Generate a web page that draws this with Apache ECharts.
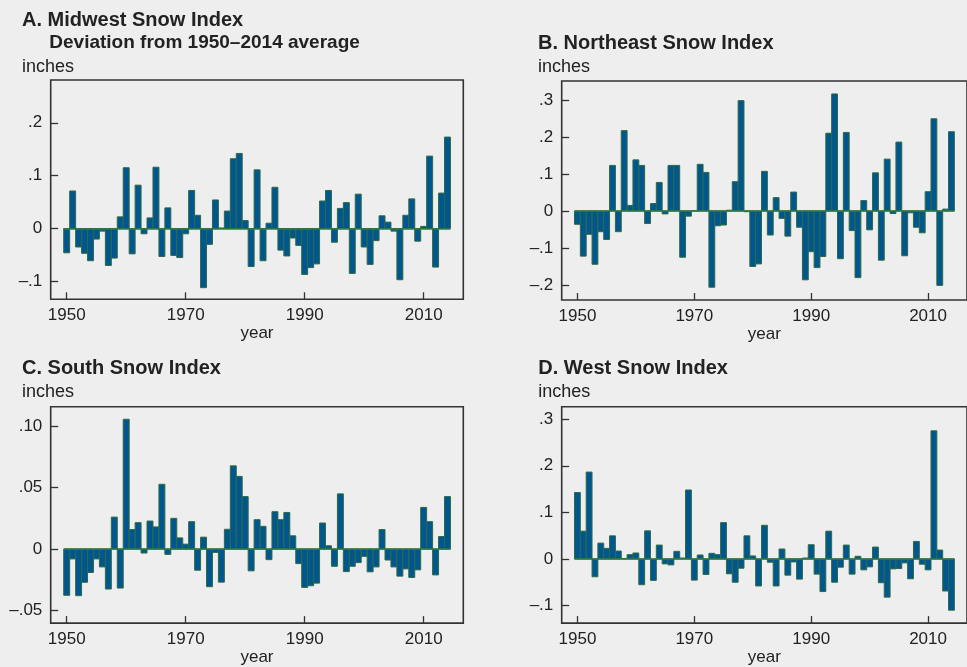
<!DOCTYPE html>
<html>
<head>
<meta charset="utf-8">
<script src="https://cdn.jsdelivr.net/npm/echarts@6/dist/echarts.min.js"></script>
<style>
html,body{margin:0;padding:0;background:#eeeeee;}
#chart{width:967px;height:667px;}
</style>
</head>
<body>
<div id="chart"></div>
<script>
const years = [1950,1951,1952,1953,1954,1955,1956,1957,1958,1959,
  1960,1961,1962,1963,1964,1965,1966,1967,1968,1969,
  1970,1971,1972,1973,1974,1975,1976,1977,1978,1979,
  1980,1981,1982,1983,1984,1985,1986,1987,1988,1989,
  1990,1991,1992,1993,1994,1995,1996,1997,1998,1999,
  2000,2001,2002,2003,2004,2005,2006,2007,2008,2009,
  2010,2011,2012,2013,2014];

const midwest = [-0.046,0.071,-0.035,-0.047,-0.061,-0.020,-0.005,-0.070,-0.056,0.022,
  0.115,-0.048,0.082,-0.010,0.020,0.116,-0.053,0.039,-0.051,-0.055,
  -0.010,0.072,0.025,-0.112,-0.030,0.054,0.001,0.033,0.132,0.142,
  0.015,-0.072,0.111,-0.061,0.010,0.078,-0.041,-0.052,-0.018,-0.032,
  -0.087,-0.074,-0.067,0.052,0.072,-0.026,0.038,0.049,-0.085,0.065,
  -0.035,-0.068,-0.023,0.024,0.012,-0.005,-0.097,0.025,0.056,-0.024,
  0.004,0.137,-0.073,0.067,0.173];

const northeast = [-0.036,-0.122,-0.063,-0.144,-0.056,-0.077,0.123,-0.056,0.217,0.015,
  0.138,0.123,-0.034,0.020,0.077,-0.008,0.123,0.123,-0.125,-0.014,
  0.001,0.126,0.104,-0.206,-0.040,-0.038,0.002,0.079,0.298,-0.002,
  -0.150,-0.143,0.107,-0.065,0.036,-0.020,-0.068,0.051,-0.044,-0.186,
  -0.110,-0.153,-0.123,0.210,0.316,-0.129,0.212,-0.053,-0.180,0.028,
  -0.051,0.103,-0.133,0.140,-0.007,0.186,-0.121,-0.005,-0.044,-0.059,
  0.052,0.249,-0.201,0.005,0.214];

const south = [-0.0376,-0.008,-0.0379,-0.027,-0.019,-0.008,-0.0145,-0.0325,0.026,-0.0317,
  0.1056,0.0159,0.0215,-0.0032,0.0228,0.018,0.0527,-0.0043,0.025,0.0091,
  0.004,0.0223,-0.0172,0.0097,-0.0306,-0.0027,-0.0269,0.0161,0.0677,0.0591,
  0.0427,-0.0177,0.0239,0.0185,-0.0086,0.0304,0.0239,0.0298,0.0108,-0.0118,
  -0.0312,-0.0298,-0.0277,0.0212,0.0027,-0.014,0.0449,-0.0183,-0.014,-0.011,
  -0.0059,-0.0185,-0.0145,0.0159,-0.0089,-0.0145,-0.022,-0.0161,-0.0231,-0.0169,
  0.0339,0.0223,-0.021,0.0102,0.0427];

const west = [0.1426,0.0596,0.1865,-0.0383,0.034,0.0227,0.0496,0.017,0.001,0.0092,
  0.0128,-0.0553,0.0603,-0.046,0.0298,-0.0106,-0.0128,0.0163,0.002,0.148,
  -0.0454,0.0085,-0.0333,0.012,0.0092,0.078,-0.0319,-0.050,-0.0199,0.0496,
  0.0064,-0.058,0.0723,-0.007,-0.058,0.0213,-0.0348,-0.0064,-0.0433,0.002,
  0.0305,-0.0326,-0.070,0.0596,-0.050,-0.0177,0.0298,-0.0326,0.0057,-0.0234,
  -0.017,0.0255,-0.051,-0.082,-0.0213,-0.0206,-0.0085,-0.0426,0.0376,-0.0113,
  -0.0234,0.275,0.0191,-0.0688,-0.110];

const xTicks = [1950,1970,1990,2010];
const yTicksA = [-0.1,0,0.1,0.2];
const yLabelsA = ['\u2013.1','0','.1','.2'];
const yTicksB = [-0.2,-0.1,0,0.1,0.2,0.3];
const yLabelsB = ['\u2013.2','\u2013.1','0','.1','.2','.3'];
const yTicksC = [-0.05,0,0.05,0.10];
const yLabelsC = ['\u2013.05','0','.05','.10'];
const yTicksD = [-0.1,0,0.1,0.2,0.3];
const yLabelsD = ['\u2013.1','0','.1','.2','.3'];

const FONT = '"Liberation Sans", Arial, Helvetica, sans-serif';
const TXT = '#222';
const FRAME = '#333';
const BAR = '#00578f';
const EDGE = '#2f6a42';
const ZERO = '#2f7a45';

const panels = [
  {grid:{left:50.7, top:80, width:412.6, height:219.3}, data:midwest, ymin:-0.134, ymax:0.281, ticks:yTicksA, labels:yLabelsA},
  {grid:{left:561.7, top:81, width:412.6, height:219}, data:northeast, ymin:-0.2405, ymax:0.351, ticks:yTicksB, labels:yLabelsB},
  {grid:{left:50.7, top:406.7, width:412.6, height:218.3}, data:south, ymin:-0.0602, ymax:0.1158, ticks:yTicksC, labels:yLabelsC},
  {grid:{left:561.7, top:406.7, width:412.6, height:218.3}, data:west, ymin:-0.1377, ymax:0.3268, ticks:yTicksD, labels:yLabelsD}
];

const xMin = 1947.31, xMax = 2016.66;

function renderBar(params, api) {
  const yr = api.value(0), v = api.value(1);
  const a = api.coord([yr - 0.5, 0]);
  const b = api.coord([yr + 0.5, v]);
  return {
    type:'rect',
    shape:{x:a[0], y:Math.min(a[1], b[1]), width:b[0]-a[0], height:Math.abs(b[1]-a[1])},
    style:{fill:BAR, stroke:EDGE, lineWidth:1}
  };
}

const option = {
  backgroundColor:'#eeeeee',
  animation:false,
  textStyle:{fontFamily:FONT},
  grid: panels.map(p => Object.assign({show:true, borderColor:FRAME, borderWidth:1.6, backgroundColor:'transparent'}, p.grid)),
  xAxis: panels.map((p,i) => ({
    type:'value', gridIndex:i, min:xMin, max:xMax, position:'bottom',
    name:'year', nameLocation:'middle', nameGap:24,
    nameTextStyle:{fontSize:17, color:TXT, fontFamily:FONT},
    axisLine:{show:false, onZero:false},
    splitLine:{show:false},
    axisTick:{show:true, inside:true, length:7, customValues:xTicks, lineStyle:{color:FRAME, width:1.3}},
    axisLabel:{show:true, customValues:xTicks, margin:8, fontSize:17, color:TXT, fontFamily:FONT, formatter:v=>String(v)}
  })),
  yAxis: panels.map((p,i) => ({
    type:'value', gridIndex:i, min:p.ymin, max:p.ymax,
    axisLine:{show:false, onZero:false},
    splitLine:{show:false},
    axisTick:{show:true, inside:true, length:7.5, customValues:p.ticks, lineStyle:{color:FRAME, width:1.3}},
    axisLabel:{show:true, customValues:p.ticks, margin:8.4, fontSize:17, color:TXT, fontFamily:FONT,
      formatter:v=>{ const k = p.ticks.findIndex(t=>Math.abs(t-v)<1e-9); return k>=0 ? p.labels[k] : ''; }}
  })),
  series: panels.map((p,i) => ({
    type:'custom', xAxisIndex:i, yAxisIndex:i,
    data: years.map((y,k)=>[y, p.data[k]]),
    encode:{x:0, y:1},
    renderItem: renderBar,
    silent:true,
    markLine:{
      silent:true, symbol:['none','none'], label:{show:false},
      lineStyle:{color:ZERO, width:1.5, type:'solid'},
      data:[[{coord:[years[0]-0.5,0]},{coord:[years[years.length-1]+0.5,0]}]]
    }
  })),
  graphic: [
    {type:'text', style:{x:22, y:20.5, text:'A. Midwest Snow Index', font:'bold 20px '+FONT, fill:TXT, verticalAlign:'middle'}},
    {type:'text', style:{x:49.3, y:42.5, text:'Deviation from 1950\u20132014 average', font:'bold 19px '+FONT, fill:TXT, verticalAlign:'middle'}},
    {type:'text', style:{x:22, y:67.3, text:'inches', font:'18px '+FONT, fill:TXT, verticalAlign:'middle'}},
    {type:'text', style:{x:538, y:43.4, text:'B. Northeast Snow Index', font:'bold 20px '+FONT, fill:TXT, verticalAlign:'middle'}},
    {type:'text', style:{x:538, y:67.3, text:'inches', font:'18px '+FONT, fill:TXT, verticalAlign:'middle'}},
    {type:'text', style:{x:22, y:368.4, text:'C. South Snow Index', font:'bold 20px '+FONT, fill:TXT, verticalAlign:'middle'}},
    {type:'text', style:{x:22, y:392.3, text:'inches', font:'18px '+FONT, fill:TXT, verticalAlign:'middle'}},
    {type:'text', style:{x:538.3, y:368.4, text:'D. West Snow Index', font:'bold 20px '+FONT, fill:TXT, verticalAlign:'middle'}},
    {type:'text', style:{x:538.3, y:392.3, text:'inches', font:'18px '+FONT, fill:TXT, verticalAlign:'middle'}}
  ]
};

const chart = echarts.init(document.getElementById('chart'), null, {renderer:'canvas'});
chart.setOption(option);
</script>
</body>
</html>
